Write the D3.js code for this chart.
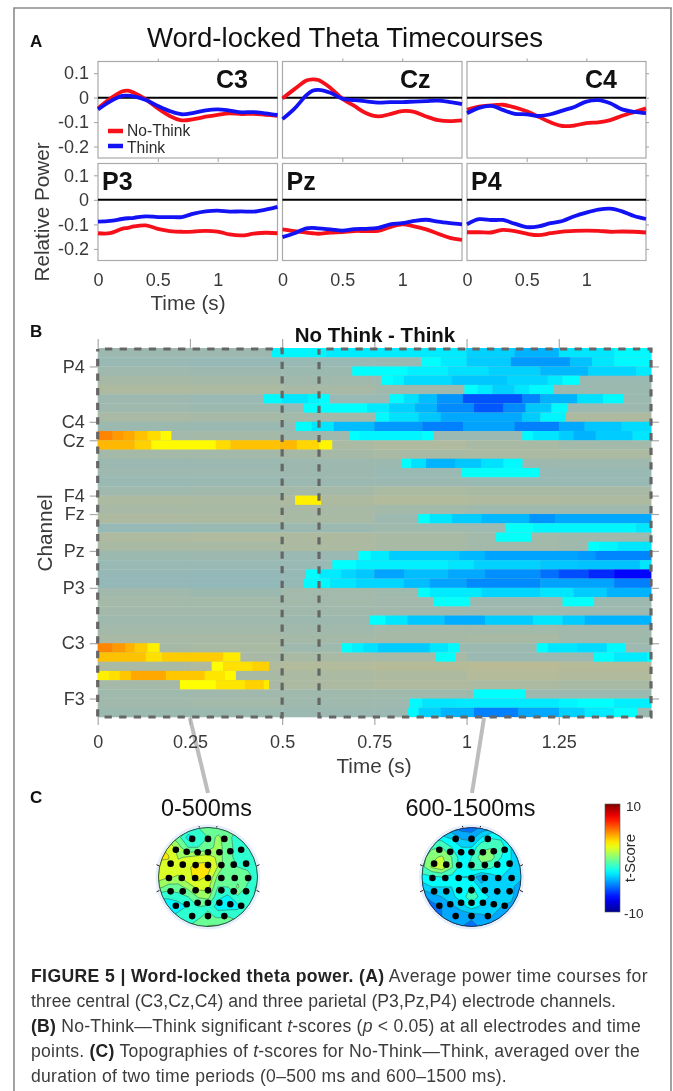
<!DOCTYPE html>
<html><head><meta charset="utf-8">
<script src="https://cdn.jsdelivr.net/npm/d3@7"></script>
<style>
html,body{margin:0;padding:0;background:#fff}
svg{display:block;filter:blur(.4px)}
text{font-family:"Liberation Sans",Arial,sans-serif;fill:#2b2b2b}
</style></head><body>
<svg id="fig" width="673" height="1091"></svg>
<script>
// ---------- Panel A data ----------
const timePts=[0,.1,.2,.25,.3,.4,.5,.6,.7,.8,.9,1,1.1,1.2,1.3,1.4,1.5];
const yTicksA=[.1,0,-.1,-.2];
const xTicksA=[0,.5,1];
const panelNames=["C3","Cz","C4","P3","Pz","P4"];
const noThink=[
 [-.044,-.005,.025,.029,.02,-.007,-.044,-.075,-.093,-.088,-.078,-.07,-.064,-.067,-.066,-.07,-.074],
 [-.003,.035,.07,.075,.072,.04,-.004,-.034,-.064,-.077,-.067,-.055,-.058,-.077,-.092,-.096,-.093],
 [-.05,-.037,-.032,-.03,-.029,-.04,-.056,-.078,-.101,-.116,-.114,-.104,-.101,-.092,-.074,-.059,-.044],
 [-.136,-.136,-.118,-.114,-.108,-.104,-.118,-.127,-.13,-.129,-.126,-.129,-.141,-.145,-.138,-.134,-.136],
 [-.12,-.127,-.133,-.136,-.138,-.133,-.131,-.127,-.127,-.126,-.111,-.1,-.108,-.12,-.138,-.155,-.163],
 [-.132,-.132,-.133,-.127,-.122,-.127,-.138,-.144,-.136,-.129,-.126,-.125,-.126,-.13,-.129,-.13,-.133]];
const think=[
 [-.048,-.016,.007,.008,.005,-.01,-.034,-.055,-.068,-.062,-.052,-.048,-.053,-.06,-.059,-.064,-.071],
 [-.088,-.045,.01,.028,.032,.02,-.004,-.01,-.015,-.02,-.018,-.018,-.016,-.014,-.012,-.018,-.026],
 [-.064,-.042,-.034,-.04,-.05,-.066,-.068,-.075,-.068,-.053,-.038,-.016,-.01,-.023,-.048,-.058,-.063],
 [-.089,-.086,-.078,-.075,-.073,-.067,-.07,-.07,-.07,-.056,-.047,-.044,-.048,-.047,-.048,-.04,-.029],
 [-.152,-.136,-.116,-.114,-.116,-.12,-.125,-.119,-.118,-.114,-.1,-.095,-.086,-.081,-.089,-.095,-.1],
 [-.1,-.079,-.082,-.082,-.082,-.097,-.111,-.108,-.095,-.086,-.067,-.052,-.04,-.036,-.047,-.066,-.078]];

// ---------- Panel B data ----------
const channelRows=[2,8,10,16,18,22,26,32,38];
const channelNames=["P4","C4","Cz","F4","Fz","Pz","P3","C3","F3"];
const xTicksB=[0,.25,.5,.75,1,1.25];
const bgEdges=[0,.25,.5,.75,1,1.25,1.5];
const heatBg=[
[-.5,-.5,-.6,-.6,-.6,-.6],[-1,-1.2,-1,-.8,-.8,-.8],[-.3,-.5,-.6,-.7,-.8,-.8],[.3,.2,-.1,-.5,-.7,-.7],
[.8,.7,.4,-.2,-.5,-.6],[-.5,-.8,-1,-.8,-.7,-.6],[-.3,-.6,-.8,-.6,-.5,-.5],[.4,.3,.1,-.3,.2,.8],
[-.6,-.8,-.7,-.5,-.5,-.5],[0,.2,-.3,-.8,-.8,-.5],[.3,.3,.6,.9,.5,.1],[.2,.1,.3,.5,.6,.7],
[-.7,-.7,-.5,-.6,-.5,-.4],[-.4,-.4,-.5,-.8,-1,-.9],[-.9,-.8,-.7,-.7,-.9,-1],[-.3,-.1,.2,.6,.5,.4],
[.7,.6,.8,1.1,.9,.8],[.4,.5,.4,.1,-.2,-.3],[.8,.7,.5,-.5,-.6,-.7],[-1.1,-.9,-.7,-.2,-.4,-.5],
[.8,.9,.8,.5,.1,-.2],[.5,.5,.7,.4,.1,-.2],[-.6,-.5,-.8,-.8,-.8,-.8],[-1,-1,-1,-1,-1,-1],
[-1.4,-1.5,-1.2,-1.2,-1.2,-1.2],[-1.5,-1.6,-1.2,-1.2,-1.2,-1.2],[-.1,-.6,.1,-.2,-.5,-.5],[.2,.1,.1,-.1,-.5,-.6],
[.1,.1,-.1,-.1,-.3,-.4],[-.3,-.3,-.5,-.6,-.6,-.6],[.1,.1,-.1,.2,.1,-.1],[.4,.4,.2,.3,.5,-.2],
[.3,.5,-.3,-.5,-.6,-.4],[.3,.4,.5,.4,-.7,-.6],[.6,.9,1.1,1.4,1.5,1.3],[.4,.5,.6,.8,1.2,1],
[.2,.4,.7,.9,.7,.5],[-.2,-.1,-.2,-.2,-.5,-.6],[-.1,.1,-.3,-.4,-.5,-.5],[-.6,-.6,-.7,-.7,-.6,-.7]];
// [row, start s, end s, t-score]
const heatSig=[
[0,.472,.62,-2.7],[0,.62,1,-2.9],[0,1,1.13,-3.4],[0,1.13,1.25,-4],[0,1.25,1.4,-3],[0,1.4,1.5,-2.6],
[1,.878,.93,-2.5],[1,.93,1,-2.9],[1,1,1.12,-3.5],[1,1.12,1.28,-4.5],[1,1.28,1.34,-3.7],[1,1.34,1.4,-3],[1,1.4,1.5,-2.6],
[2,.69,.84,-2.5],[2,.84,.95,-2.8],[2,.95,1.06,-3.1],[2,1.06,1.2,-3.4],[2,1.2,1.33,-3.9],[2,1.33,1.46,-3.3],[2,1.46,1.5,-2.9],
[3,.769,.8,-2.5],[3,.8,.83,-2.7],[3,.83,.96,-3.2],[3,.96,1.11,-3.6],[3,1.11,1.22,-3.3],[3,1.22,1.26,-2.9],[3,1.26,1.306,-2.5],
[4,.994,1.03,-2.5],[4,1.03,1.07,-2.9],[4,1.07,1.13,-3.4],[4,1.13,1.17,-3],[4,1.17,1.236,-2.6],
[5,.449,.5,-2.6],[5,.5,.57,-3],[5,.57,.6,-2.7],[5,.6,.628,-2.5],[5,.792,.83,-2.6],[5,.83,.87,-3.1],[5,.87,.92,-3.8],[5,.92,.99,-4.6],[5,.99,1.15,-5.9],[5,1.15,1.2,-4.9],[5,1.2,1.3,-4],[5,1.3,1.37,-3.1],[5,1.37,1.424,-2.6],
[6,.559,.73,-2.5],[6,.73,.79,-2.9],[6,.79,.86,-3.4],[6,.86,.92,-4],[6,.92,1.02,-4.8],[6,1.02,1.1,-5.8],[6,1.1,1.16,-4.8],[6,1.16,1.23,-3.6],[6,1.23,1.274,-2.6],
[7,.753,.79,-2.6],[7,.79,.87,-3.1],[7,.87,.93,-3.6],[7,.93,1.15,-4.2],[7,1.15,1.2,-3.5],[7,1.2,1.268,-2.7],
[8,.535,.58,-2.5],[8,.58,.64,-3],[8,.64,.75,-3.8],[8,.75,.88,-4.5],[8,.88,.99,-5],[8,.99,1.13,-4.3],[8,1.13,1.25,-5],[8,1.25,1.32,-4.2],[8,1.32,1.42,-3.6],[8,1.42,1.5,-3.2],
[9,0,.04,4.9],[9,.04,.07,4.5],[9,.07,.1,4.2],[9,.1,.135,3.7],[9,.135,.17,3.2],[9,.17,.199,2.6],[9,.682,.71,-2.5],[9,.71,.88,-2.7],[9,.88,.91,-2.5],[9,1.151,1.18,-2.6],[9,1.18,1.25,-3],[9,1.25,1.29,-3.5],[9,1.29,1.35,-4],[9,1.35,1.45,-3.5],[9,1.45,1.5,-3],
[10,0,.1,3.9],[10,.1,.145,3.4],[10,.145,.32,2.6],[10,.32,.36,3.2],[10,.36,.495,3.7],[10,.495,.54,3.9],[10,.54,.6,3.3],[10,.6,.635,2.7],
[12,.823,.85,-2.5],[12,.85,.89,-3.1],[12,.89,.97,-4],[12,.97,1.04,-3.6],[12,1.04,1.1,-3.1],[12,1.1,1.151,-2.6],
[13,.987,1.197,-2.4],
[16,.535,.605,2.8],
[18,.869,.9,-2.5],[18,.9,.96,-3],[18,.96,1.04,-3.5],[18,1.04,1.17,-3.9],[18,1.17,1.24,-4.6],[18,1.24,1.5,-4.2],
[19,1.104,1.18,-2.4],[19,1.18,1.46,-2.7],[19,1.46,1.5,-3],
[20,1.08,1.175,-2.4],
[21,1.33,1.36,-2.5],[21,1.36,1.41,-2.7],[21,1.41,1.5,-3],
[22,.707,.74,-2.5],[22,.74,.79,-2.9],[22,.79,.98,-3.5],[22,.98,1.05,-3.9],[22,1.05,1.3,-4.3],[22,1.3,1.35,-4.5],[22,1.35,1.5,-4.9],
[23,.636,.7,-2.5],[23,.7,.95,-2.8],[23,.95,1.02,-3],[23,1.02,1.2,-3.4],[23,1.2,1.3,-3.6],[23,1.3,1.47,-3.7],[23,1.47,1.5,-3],
[24,.565,.6,-2.5],[24,.6,.66,-2.9],[24,.66,.7,-3.3],[24,.7,.75,-3.6],[24,.75,.83,-4.3],[24,.83,.95,-3.8],[24,.95,1.05,-4.2],[24,1.05,1.2,-4.7],[24,1.2,1.25,-5.3],[24,1.25,1.33,-6],[24,1.33,1.4,-6.7],[24,1.4,1.5,-7.4],
[25,.557,.63,-2.6],[25,.63,.7,-3],[25,.7,.83,-3.3],[25,.83,.9,-3.8],[25,.9,1,-4.3],[25,1,1.2,-4.8],[25,1.2,1.4,-4.3],[25,1.4,1.5,-5],
[26,.869,.9,-2.5],[26,.9,1.04,-2.9],[26,1.04,1.2,-3.3],[26,1.2,1.29,-3],[26,1.29,1.38,-3.5],[26,1.38,1.5,-4],
[27,.91,1.009,-2.4],[27,1.26,1.345,-2.4],
[29,.738,.78,-2.5],[29,.78,.84,-3],[29,.84,.94,-3.6],[29,.94,1.05,-4.1],[29,1.05,1.18,-3.5],[29,1.18,1.26,-3],[29,1.26,1.32,-3.5],[29,1.32,1.5,-4],
[32,0,.04,4.9],[32,.04,.075,4.5],[32,.075,.1,4],[32,.1,.135,3.5],[32,.135,.167,2.8],[32,.66,.69,-2.5],[32,.69,.72,-2.8],[32,.72,.76,-3.1],[32,.76,.9,-3.5],[32,.9,.95,-3],[32,.95,.98,-2.6],[32,1.19,1.22,-2.5],[32,1.22,1.3,-3],[32,1.3,1.38,-3.2],[32,1.38,1.431,-2.6],
[33,0,.13,3.7],[33,.13,.175,3.1],[33,.175,.34,3.5],[33,.34,.386,2.9],[33,.917,.97,-2.4],[33,1.345,1.4,-2.5],[33,1.4,1.49,-2.9],[33,1.49,1.5,-2.5],
[34,.309,.34,2.5],[34,.34,.42,3.1],[34,.42,.464,3.4],
[35,0,.03,2.8],[35,.03,.06,3.1],[35,.06,.09,3.6],[35,.09,.185,4.2],[35,.185,.29,3.6],[35,.29,.345,3],[35,.345,.374,2.6],
[36,.223,.32,2.5],[36,.32,.4,3],[36,.4,.45,3.4],[36,.45,.464,2.9],
[37,1.018,1.158,-2.5],
[38,.846,.88,-2.6],[38,.88,.97,-3],[38,.97,1.25,-2.9],[38,1.25,1.3,-2.7],[38,1.3,1.4,-2.5],[38,1.4,1.5,-2.8],
[39,.839,.87,-2.6],[39,.87,.93,-3.4],[39,.93,1.02,-4],[39,1.02,1.14,-5],[39,1.14,1.25,-4.2],[39,1.25,1.32,-3.4],[39,1.32,1.4,-2.9],[39,1.4,1.463,-2.5]];

// ---------- Panel C data ----------
const topoEarly=[
[-1,-1,-1,-1,-1,-1,-1,-1,-1,-1,-1],
[0,.5,-.5,-2.7,-2,-1,.5,-.8,-1.3,-1.3,-1.3],
[2.5,2,.5,-1,-1,-.8,.8,-.8,-1.2,-1.3,-1.3],
[2.5,2.5,1,1.2,1.5,1.8,.8,-.8,-1.2,-1.3,-1.3],
[2.2,2,1.5,2.2,3,3,1,-.8,-1,-1.2,-1],
[1.5,1.2,1,2,3,2.2,-.2,-.8,-.3,-.6,-1.5],
[.5,-.3,-.3,.5,1.5,1.5,-1,-1,.3,-1.2,-2.5],
[-2,-2,-1.5,-1,.2,.5,-1.8,-2.5,-1.2,-1.2,-2.5],
[-3,-3,-3,-2,-1,-1.2,-2.8,-2.8,-2.6,-1.2,-1.2],
[-2.5,-2.5,-1.5,-1.2,-1.2,-.7,-1.2,-1,-1.2,-1.2,-1.2],
[-1.5,-1.2,-1,-1,-.5,.2,.3,.2,-.7,-1,-1]];
const topoLate=[
[-4,-4,-4,-4.5,-5,-5,-4.5,-4,-3.5,-3.5,-3.5],
[-3,-2.5,-2.8,-3.2,-4,-4.2,-3,-2.2,-2.2,-3.2,-3.5],
[-2,-.8,-.5,-2,-3,-3,-1,-.6,-1.5,-3,-3.2],
[-1,.5,1,-.5,-3,-2,.3,.2,-2,-3,-3.2],
[-1,1,1.8,-.3,-2.8,-1.5,-1.2,-1.8,-2.8,-3,-3.2],
[-2.5,-2.3,-2,-2.5,-3,-3.2,-4.5,-3.5,-3,-3.2,-3.5],
[-3.5,-3,-3,-3,-3,-1.8,-3.4,-3.2,-3.2,-3.5,-4.5],
[-4.8,-4.2,-3.8,-3.2,-2.6,-1.2,-2.4,-3.2,-3.4,-3.6,-4.5],
[-5,-5,-4.6,-4,-3.4,-2.6,-3.2,-3.6,-3.8,-4,-4.6],
[-5,-5,-4.6,-3.9,-4.4,-4.4,-4,-3.8,-4.2,-4.6,-4.8],
[-5,-5,-5,-4.4,-4.6,-5,-4.4,-4.2,-4.8,-5,-5]];
const bandsEarly=[-2.2,-1,.1,1.1,2.4];
const bandsLate=[-6,-4.6,-3.8,-3,-2,-.5,.8];
const elecX=[-.32,0,.33,-.65,-.43,-.21,0,.23,.45,.67,-.755,-.51,-.25,0,.27,.52,.77,-.79,-.53,-.26,0,.27,.54,.81,-.755,-.51,-.25,0,.27,.52,.77,-.65,-.43,-.21,0,.23,.45,.67,-.32,0,.33];
const elecY=[-.77,-.77,-.77,-.55,-.51,-.5,-.5,-.5,-.52,-.55,-.27,-.25,-.24,-.24,-.24,-.25,-.27,.02,.02,.02,.02,.02,.02,.02,.29,.29,.27,.27,.27,.29,.29,.58,.55,.52,.52,.52,.55,.58,.79,.79,.79];
const topoTitles=["0-500ms","600-1500ms"];
const captionLines=[
 [["FIGURE 5 | Word-locked theta power. (A)","b"],[" Average power time courses for",""]],
 [["three central (C3,Cz,C4) and three parietal (P3,Pz,P4) electrode channels.",""]],
 [["(B)","b"],[" No-Think\u2014Think significant ",""],["t","i"],["-scores (",""],["p","i"],[" < 0.05) at all electrodes and time",""]],
 [["points. ",""],["(C)","b"],[" Topographies of ",""],["t","i"],["-scores for No-Think\u2014Think, averaged over the",""]],
 [["duration of two time periods (0\u2013500 ms and 600\u20131500 ms).",""]]];
const captionEnds=[648,616,641,640,507];

// ---------- drawing ----------
const svg=d3.select("#fig");
const AX="#a9a9a9";
const jet=d3.scaleLinear().domain([-10,-7.5,-2.5,2.5,7.5,10]).range(["#00008f","#0000ff","#00ffff","#ffff00","#ff0000","#800000"]).clamp(true);
const muted=d3.scaleLinear().domain([-2.4,0,2.2]).range(["#8bb8c0","#a2b9ab","#c2bc8b"]).clamp(true);

svg.append("path").attr("d",d3.line()([[14,1091],[14,8],[671,8],[671,1091]])).attr("fill","none").attr("stroke","#8c8c8c").attr("stroke-width",1.6);

function label(x,y,t,size,opt={}){
  const s=svg.append("text").attr("x",x).attr("y",y).attr("font-size",size).text(t);
  if(opt.bold)s.attr("font-weight","bold").style("fill","#111");
  if(opt.anchor)s.attr("text-anchor",opt.anchor);
  if(opt.rot)s.attr("transform",`rotate(-90 ${x} ${y})`);
  return s;
}
label(30,47,"A",17,{bold:true});
label(30,337,"B",17,{bold:true});
label(30,803,"C",17,{bold:true});
label(345,47,"Word-locked Theta Timecourses",27.6,{anchor:"middle"}).style("fill","#111");

// Panel A
const colX=[[98,277.5],[282.5,462],[467,646]];
const rowY=[[61.5,158],[163.5,260.5]];
const nameX=[216,400,585,102,286.5,471];
const nameY=[88,88,88,190,190,190];
panelNames.forEach((nm,i)=>{
  const c=i%3,r=Math.floor(i/3);
  const x=d3.scaleLinear().domain([0,1.5]).range(colX[c]);
  const y=d3.scaleLinear().domain([.148,-.247]).range(rowY[r]);
  const g=svg.append("g");
  g.append("rect").attr("x",colX[c][0]).attr("y",rowY[r][0]).attr("width",colX[c][1]-colX[c][0]).attr("height",rowY[r][1]-rowY[r][0]).attr("fill","none").attr("stroke",AX).attr("stroke-width",1.2);
  const tickStyle=a=>{a.selectAll(".domain").remove();a.selectAll("line").attr("stroke",AX).attr("stroke-width",1.1);a.selectAll("text").attr("font-size",18).style("font-family",'"Liberation Sans",Arial,sans-serif').style("fill","#3a3a3a");};
  const fmtY=d=>d===0?"0":d.toFixed(1);
  if(c===0) g.append("g").attr("transform",`translate(${colX[c][0]},0)`).call(d3.axisLeft(y).tickValues(yTicksA).tickSize(4).tickPadding(5).tickFormat(fmtY)).call(tickStyle);
  if(c===2) g.append("g").attr("transform",`translate(${colX[c][1]},0)`).call(d3.axisRight(y).tickValues(yTicksA).tickSize(3).tickFormat("")).call(tickStyle);
  if(r===0){
    g.append("g").attr("transform",`translate(0,${rowY[r][0]})`).call(d3.axisTop(x).tickValues(xTicksA.slice(1)).tickSize(3).tickFormat("")).call(tickStyle);
    g.append("g").attr("transform",`translate(0,${rowY[r][1]})`).call(d3.axisBottom(x).tickValues(xTicksA.slice(1)).tickSize(4).tickFormat("")).call(tickStyle);
  } else {
    g.append("g").attr("transform",`translate(0,${rowY[r][1]})`).call(d3.axisBottom(x).tickValues(xTicksA).tickSize(0).tickPadding(13).tickFormat(d=>d)).call(tickStyle);
  }
  g.append("line").attr("x1",colX[c][0]).attr("x2",colX[c][1]).attr("y1",y(0)).attr("y2",y(0)).attr("stroke","#000").attr("stroke-width",2);
  const ln=d3.line().x((d,k)=>x(timePts[k])).y(d=>y(d)).curve(d3.curveCatmullRom);
  g.append("path").attr("d",ln(noThink[i])).attr("fill","none").attr("stroke","#f5101a").attr("stroke-width",3.8);
  g.append("path").attr("d",ln(think[i])).attr("fill","none").attr("stroke","#1212f5").attr("stroke-width",3.8);
  label(nameX[i],nameY[i],nm,25,{bold:true});
});
svg.append("line").attr("x1",108).attr("x2",123).attr("y1",131).attr("y2",131).attr("stroke","#f5101a").attr("stroke-width",4.5);
svg.append("line").attr("x1",108).attr("x2",123).attr("y1",146).attr("y2",146).attr("stroke","#1212f5").attr("stroke-width",4.5);
label(127,135.5,"No-Think",15.6);
label(127,153,"Think",15.6);
label(49,212,"Relative Power",20.7,{anchor:"middle",rot:true}).style("fill","#3a3a3a");
label(188,310,"Time (s)",20.7,{anchor:"middle"}).style("fill","#3a3a3a");

// Panel B
const hx=d3.scaleLinear().domain([0,1.5]).range([97.7,651]);
const hy=d3.scaleLinear().domain([0,40]).range([348,717]);
const heat=svg.append("g");
heatBg.forEach((row,r)=>row.forEach((v,k)=>{
  heat.append("rect").attr("x",hx(bgEdges[k])).attr("y",hy(r)).attr("width",hx(bgEdges[k+1])-hx(bgEdges[k])+.5).attr("height",hy(r+1)-hy(r)+.3).attr("fill",muted(v));
}));
heat.selectAll("rect.sig").data(heatSig).join("rect").attr("class","sig")
  .attr("x",d=>hx(d[1])).attr("y",d=>hy(d[0])).attr("width",d=>hx(d[2])-hx(d[1])+.3).attr("height",d=>hy(d[0]+1)-hy(d[0])).attr("fill",d=>jet(d[3]));
const axStyle=a=>{a.selectAll(".domain").remove();a.selectAll("line").attr("stroke",AX).attr("stroke-width",1.2);a.selectAll("text").attr("font-size",18).style("font-family",'"Liberation Sans",Arial,sans-serif').style("fill","#3a3a3a");};
[[hx(.25),208],[484,472]].forEach(d=>{
  svg.append("line").attr("x1",d[0]).attr("y1",718).attr("x2",d[1]).attr("y2",793).attr("stroke","#bdbdbd").attr("stroke-width",4);
});
svg.append("g").attr("transform","translate(0,348)").call(d3.axisTop(hx).tickValues(xTicksB).tickSize(9).tickFormat("")).call(axStyle);
svg.append("g").attr("transform","translate(0,717)").call(d3.axisBottom(hx).tickValues(xTicksB).tickSize(8).tickPadding(10.5).tickFormat(d=>d)).call(axStyle);
const tickIdx=d3.scaleOrdinal().domain(channelRows).range(channelNames);
svg.append("g").attr("transform","translate(97.7,0)").call(d3.axisLeft(hy).tickValues(channelRows).tickSize(8).tickPadding(5).tickFormat(d=>tickIdx(d))).call(axStyle);
svg.append("g").attr("transform","translate(651,0)").call(d3.axisRight(hy).tickValues(channelRows).tickSize(8).tickFormat("")).call(axStyle);
[[0,.5],[.6,1.5]].forEach(w=>{
  svg.append("rect").attr("x",hx(w[0])).attr("y",hy(0)+1).attr("width",hx(w[1])-hx(w[0])).attr("height",hy(40)-hy(0)-1)
    .attr("fill","none").attr("stroke","#666").attr("stroke-width",3.2).attr("stroke-dasharray","7.3 7.3").attr("stroke-dashoffset",7.3);
});
label(375,342,"No Think - Think",20.5,{bold:true,anchor:"middle"});
label(52,533,"Channel",20.7,{anchor:"middle",rot:true}).style("fill","#3a3a3a");
label(374,773,"Time (s)",20.7,{anchor:"middle"}).style("fill","#3a3a3a");

// Panel C
svg.append("defs").html('<clipPath id="cp0"><circle cx="208" cy="877" r="49.5"/></clipPath><clipPath id="cp1"><circle cx="471.5" cy="877" r="49.5"/></clipPath>');
function topo(idx,cx,cy,grid,bands){
  const R=49.5;
  svg.append("circle").attr("cx",cx).attr("cy",cy).attr("r",R+1.2).attr("fill","none").attr("stroke","#e6eefb").attr("stroke-width",3.5);
  const gx=d3.scaleLinear().domain([.5,10.5]).range([cx-R,cx+R]);
  const gy=d3.scaleLinear().domain([.5,10.5]).range([cy-R,cy+R]);
  const proj=d3.geoTransform({point(a,b){this.stream.point(gx(a),gy(b));}});
  const path=d3.geoPath(proj);
  const g=svg.append("g").attr("clip-path",`url(#cp${idx})`);
  const levels=[-30].concat(bands);
  d3.contours().size([11,11]).thresholds(levels)(grid.flat()).forEach((c,k)=>{
    const fillV=k===0?bands[0]-.5:(k<bands.length?(bands[k]+bands[k-1])/2:bands[k-1]+.6);
    g.append("path").attr("d",path(c)).attr("fill",jet(fillV)).attr("stroke",k===0?"none":"#2c6a50").attr("stroke-width",.55);
  });
  svg.append("circle").attr("cx",cx).attr("cy",cy).attr("r",R).attr("fill","none").attr("stroke","#222").attr("stroke-width",.8);
  const hp=d3.line();
  [[-.17,-1],[.17,-1]].forEach(p=>svg.append("path").attr("d",hp([[cx+p[0]*R,cy+p[1]*R],[cx+p[0]*R*1.1,cy+p[1]*R*1.03]])).attr("stroke","#222").attr("fill","none"));
  [[-1,-.22],[-1,.27],[1,-.22],[1,.27]].forEach(p=>svg.append("path").attr("d",hp([[cx+p[0]*R*.98,cy+p[1]*R],[cx+p[0]*R*1.04,cy+p[1]*R+(p[1]<0?-1.5:1.5)]])).attr("stroke","#222").attr("fill","none"));
  const ex=d3.scaleLinear().domain([-1,1]).range([cx-R,cx+R]);
  const ey=d3.scaleLinear().domain([-1,1]).range([cy-R,cy+R]);
  svg.append("g").selectAll("circle").data(elecX).join("circle").attr("cx",d=>ex(d)).attr("cy",(d,i)=>ey(elecY[i])).attr("r",3.3).attr("fill","#000");
}
topo(0,208,877,topoEarly,bandsEarly);
topo(1,471.5,877,topoLate,bandsLate);
label(206.5,816,topoTitles[0],23.4,{anchor:"middle"}).style("fill","#111");
label(470.5,816,topoTitles[1],23.4,{anchor:"middle"}).style("fill","#111");

// colour bar
const cbY=d3.scaleLinear().domain([10,-10]).range([804,912]);
svg.select("defs").append("linearGradient").attr("id","cb").attr("x1",0).attr("x2",0).attr("y1",0).attr("y2",1)
  .selectAll("stop").data(d3.range(0,21)).join("stop").attr("offset",d=>d*5+"%").attr("stop-color",d=>jet(10-d));
svg.append("rect").attr("x",605).attr("y",cbY(10)).attr("width",15).attr("height",cbY(-10)-cbY(10)).attr("fill","url(#cb)").attr("stroke","#555").attr("stroke-width",.6);
label(626,811,"10",13.5);
label(624,918,"-10",13.5);
label(635,858,"t-Score",15,{anchor:"middle",rot:true});

// caption
captionLines.forEach((ln,i)=>{
  const t=svg.append("text").attr("x",31).attr("y",982+i*25).attr("font-size",17.6).style("fill","#3c3c3c");
  ln.forEach(s=>{
    const sp=t.append("tspan").text(s[0]);
    if(s[1]==="b")sp.attr("font-weight","bold").style("fill","#222");
    if(s[1]==="i")sp.attr("font-style","italic");
  });
  const len=t.node().getComputedTextLength();
  const n=ln.map(s=>s[0]).join("").length;
  t.style("letter-spacing",((captionEnds[i]-31-len)/n)+"px");
});
</script>
</body></html>
